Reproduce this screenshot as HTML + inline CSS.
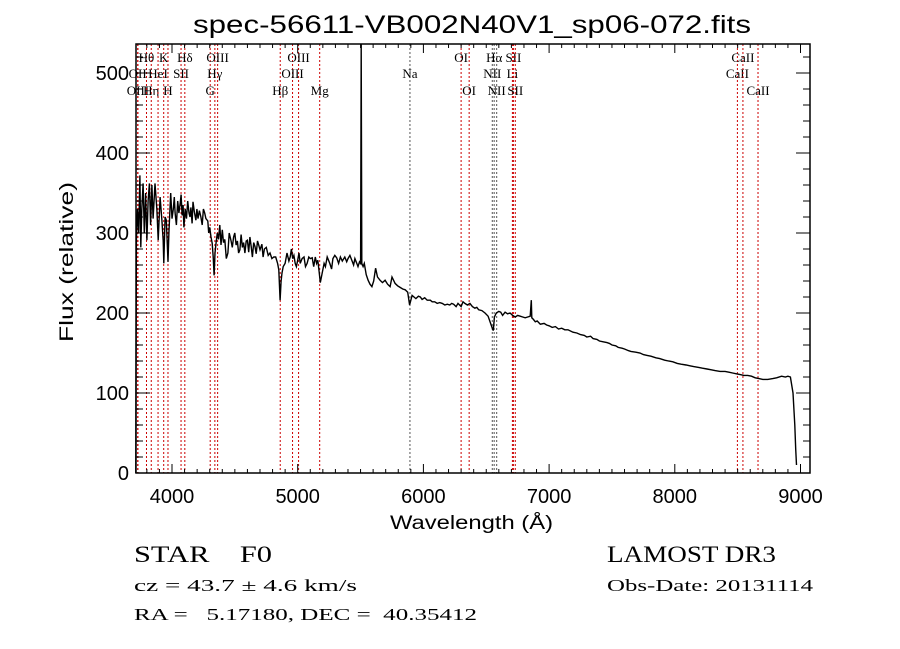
<!DOCTYPE html>
<html><head><meta charset="utf-8"><style>
html,body{margin:0;padding:0;background:#fff;}
svg{display:block;font-family:"Liberation Sans",sans-serif;}
text{white-space:pre;}
</style></head><body>
<svg id="chart" width="900" height="649" viewBox="0 0 900 649" xmlns="http://www.w3.org/2000/svg">
<rect width="900" height="649" fill="#fff"/>
<text x="193" y="33" font-size="25" textLength="558" lengthAdjust="spacingAndGlyphs">spec-56611-VB002N40V1_sp06-072.fits</text>
<g id="lines"></g>
<g id="spec"></g>
<g id="axes"></g>
<text x="390" y="529" font-size="19" textLength="163" lengthAdjust="spacingAndGlyphs">Wavelength (Å)</text>
<text transform="translate(73,342) rotate(-90)" font-size="19" textLength="160" lengthAdjust="spacingAndGlyphs">Flux (relative)</text>
<text x="134" y="562" font-size="23" textLength="138" lengthAdjust="spacingAndGlyphs" font-family="Liberation Serif, serif" xml:space="preserve">STAR    F0</text>
<text x="607" y="562" font-size="23" textLength="169" lengthAdjust="spacingAndGlyphs" font-family="Liberation Serif, serif">LAMOST DR3</text>
<text x="134" y="591" font-size="17" textLength="223" lengthAdjust="spacingAndGlyphs" font-family="Liberation Serif, serif">cz = 43.7 ± 4.6 km/s</text>
<text x="607" y="591" font-size="17" textLength="206" lengthAdjust="spacingAndGlyphs" font-family="Liberation Serif, serif">Obs-Date: 20131114</text>
<text x="134" y="620" font-size="17" textLength="343" lengthAdjust="spacingAndGlyphs" font-family="Liberation Serif, serif" xml:space="preserve">RA =   5.17180, DEC =  40.35412</text>
</svg>
<script>
const waves=[3712,3714,3717,3725,3735,3745,3752,3760,3770,3780,3790,3800,3810,3820,3830,3840,3850,3865,3880,3890,3905,3920,3930,3935,3945,3955,3968,3975,3990,4000,4010,4018,4025,4035,4045,4055,4065,4072,4080,4088,4095,4105,4115,4125,4135,4143,4150,4160,4167,4178,4190,4198,4207,4218,4230,4240,4250,4260,4270,4285,4292,4300,4310,4320,4328,4335,4342,4350,4360,4370,4380,4390,4400,4410,4420,4432,4445,4455,4470,4480,4490,4500,4510,4520,4530,4540,4550,4560,4570,4580,4590,4600,4610,4620,4630,4640,4650,4660,4670,4680,4690,4700,4715,4725,4735,4750,4765,4780,4795,4810,4825,4840,4850,4860,4868,4875,4885,4900,4915,4930,4940,4950,4960,4970,4980,4990,5000,5010,5020,5035,5050,5062,5075,5088,5100,5115,5127,5140,5150,5160,5170,5180,5195,5210,5220,5235,5255,5270,5280,5295,5310,5325,5340,5355,5375,5390,5400,5415,5430,5445,5455,5470,5480,5492,5500,5505,5510,5520,5530,5545,5560,5575,5590,5605,5620,5635,5655,5675,5695,5715,5735,5750,5775,5795,5815,5835,5855,5875,5890,5910,5925,5940,5960,5975,5990,6010,6030,6055,6070,6090,6110,6130,6150,6170,6190,6210,6225,6240,6260,6275,6300,6315,6330,6350,6370,6390,6410,6425,6440,6465,6490,6515,6535,6548,6556,6565,6580,6600,6615,6630,6650,6670,6690,6710,6730,6750,6770,6790,6810,6830,6850,6858,6862,
6875,6890,6905,6930,6960,6980,7000,7025,7050,7075,7100,7125,7150,7190,7220,7250,7280,7300,7330,7350,7380,7400,7430,7460,7480,7500,7530,7550,7580,7600,7630,7650,7690,7723,7750,7780,7810,7850,7880,7920,7950,7985,8020,8050,8090,8120,8150,8190,8220,8256,8290,8320,8360,8400,8430,8460,8490,8520,8550,8580,8610,8640,8670,8700,8740,8780,8810,8850,8880,8900,8920,8940,8955,8962,8968,8975];
const fluxes=[0,116,290,330,300,372,282,330,362,300,350,291,340,362,310,360,318,362,329,291,345,316,290,262,320,316,264,300,350,318,330,345,325,310,340,325,337,348,322,335,307,330,318,340,325,320,332,312,339,326,316,330,318,328,320,310,330,325,318,315,300,307,295,287,270,247,275,287,300,292,310,285,304,288,292,268,275,300,290,282,295,300,285,290,275,279,298,282,288,275,290,291,276,295,283,270,288,283,274,290,285,279,286,270,280,282,272,275,268,270,270,262,254,216,240,250,258,262,275,265,270,280,268,272,262,258,266,275,262,268,270,258,262,270,268,269,258,270,262,266,252,238,250,262,258,270,262,255,268,272,269,262,270,265,270,264,268,272,266,260,268,262,258,264,262,536,262,258,262,248,241,236,233,240,256,245,241,238,241,236,233,245,237,234,232,230,229,226,210,222,220,218,221,220,217,219,216,216,214,214,212,213,212,210,211,210,212,211,208,212,208,214,212,210,212,208,206,207,204,203,200,196,187,181,178,195,200,202,201,197,201,199,200,197,195,197,196,195,194,195,196,216,
194,192,189,190,186,187,185,184,182,183,180,181,179,179,176,175,173,172,170,171,168,167,165,164,163,162,160,159,157,156,155,153,152,151,150,148,147,146,144,143,141,140,139,137,136,135,134,133,132,131,130,129,128,127,127,126,125,124,123,122,122,121,119,118,117,117,118,119,121,120,121,120,100,60,30,10];
const lineWaves=[3727,3729,3797,3835,3889,3934,3968,4072,4102,4304,4341,4363,4861,4959,5007,5175,5893,6300,6364,6548,6563,6583,6708,6716,6731,8498,8542,8662];
const lineNames=["OII","OIII","Hθ","Hη","HeI","K","H","SII","Hδ","G","Hγ","OIII","Hβ","OIII","OIII","Mg","Na","OI","OI","NII","Hα","NII","Li","SII","SII","CaII","CaII","CaII"];
const lineRows=[2,3,1,3,2,1,3,2,1,3,2,1,3,2,1,3,2,1,3,2,1,3,2,1,3,2,1,3];
const lineColors=["#c00","#c00","#c00","#c00","#c00","#c00","#c00","#c00","#c00","#c00","#c00","#c00","#c00","#c00","#c00","#c00","#555","#c00","#c00","#555","#555","#555","#c00","#c00","#c00","#c00","#c00","#c00"];
const xTicks=[4000,5000,6000,7000,8000,9000];
const yTicks=[0,100,200,300,400,500];

const NS="http://www.w3.org/2000/svg";
const L=136,R=810,T=44,B=473;
const xs=w=>172+(w-4000)*0.1257;
const ys=v=>Math.max(T,473-v*0.8);
function mk(tag,attrs,parent){const e=document.createElementNS(NS,tag);for(const k in attrs)e.setAttribute(k,attrs[k]);parent.appendChild(e);return e;}
const gl=document.getElementById('lines'),gs=document.getElementById('spec'),ga=document.getElementById('axes');
const rowY={1:62,2:78,3:95};
lineWaves.forEach((w,i)=>{
  const x=xs(w);
  const l=mk('line',{x1:x,x2:x,y1:T,y2:B,stroke:lineColors[i],'stroke-width':1,'stroke-dasharray':'2,2'},gl);
  
  
  const t=mk('text',{x:x,y:rowY[lineRows[i]],'text-anchor':'middle','font-size':13,'font-family':'Liberation Serif, serif'},gl);
  t.textContent=lineNames[i];
  
  
});
let d='';
const n=Math.min(waves.length,fluxes.length);
for(let i=0;i<n;i++){d+=(i?'L':'M')+xs(waves[i]).toFixed(1)+','+ys(fluxes[i]).toFixed(1);}
const p=mk('path',{d:d,fill:'none',stroke:'#000','stroke-width':1.4,'stroke-linejoin':'miter'},gs);


const fr=mk('rect',{x:L,y:T,width:R-L,height:B-T,fill:'none',stroke:'#000','stroke-width':1.5},ga);


for(let w=3800;w<=9000;w+=100){const x=xs(w);const len=(w%1000===0)?9:4;
  mk('line',{x1:x,x2:x,y1:B,y2:B-len,stroke:'#000'},ga);mk('line',{x1:x,x2:x,y1:T,y2:T+len,stroke:'#000'},ga);}
for(let v=0;v<=520;v+=20){const y=ys(v);const len=(v%100===0)?14:7;
  mk('line',{x1:L,x2:L+len,y1:y,y2:y,stroke:'#000'},ga);mk('line',{x1:R,x2:R-len,y1:y,y2:y,stroke:'#000'},ga);}
xTicks.forEach(w=>{const t=mk('text',{x:xs(w),y:503,'text-anchor':'middle','font-size':20},ga);t.textContent=w;
  
  });
yTicks.forEach(v=>{const t=mk('text',{x:129,y:ys(v)+7,'text-anchor':'end','font-size':20},ga);t.textContent=v;
  
  });
</script>
</body></html>
